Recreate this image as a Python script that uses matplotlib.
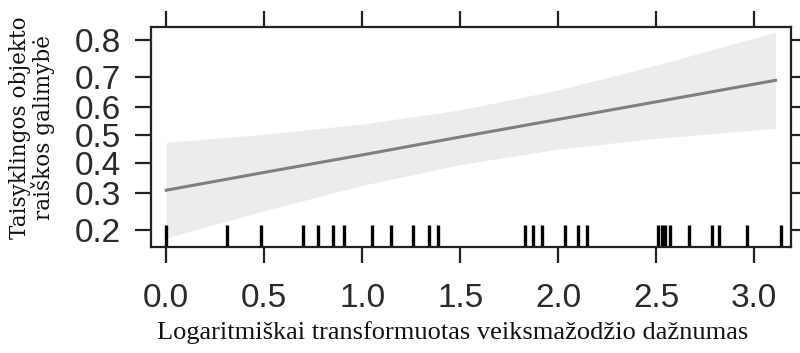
import matplotlib
matplotlib.use("Agg")
import matplotlib.pyplot as plt

# observed values (log-transformed verb frequency) - rug marks
rug_x = [0.0, 0.31, 0.485, 0.70, 0.777, 0.85, 0.905, 1.05, 1.146, 1.257,
         1.343, 1.386, 1.832, 1.874, 1.917, 2.036, 2.10, 2.146, 2.51, 2.53,
         2.545, 2.571, 2.668, 2.787, 2.823, 2.963, 3.136]

# effect curve and confidence band (probabilities)
grid_x = [0.0, 0.5, 1.0, 1.5, 2.0, 2.5, 3.11]
fit_p = [0.309, 0.367, 0.428, 0.493, 0.557, 0.619, 0.690]
lower_p = [0.182, 0.249, 0.324, 0.394, 0.449, 0.488, 0.525]
upper_p = [0.474, 0.503, 0.540, 0.591, 0.659, 0.735, 0.818]

yticks = [0.2, 0.3, 0.4, 0.5, 0.6, 0.7, 0.8]
xticks = [0.0, 0.5, 1.0, 1.5, 2.0, 2.5, 3.0]

fig = plt.figure(figsize=(8, 3.53), dpi=100)
ax = fig.add_axes([0.189, 0.300, 0.800, 0.6235])

ax.set_yscale("logit")
ax.fill_between(grid_x, lower_p, upper_p, color="#ececec", lw=0)
ax.plot(grid_x, fit_p, color="#7f7f7f", lw=2.2)

# rug along the bottom
for xv in rug_x:
    ax.plot([xv, xv], [0.163, 0.211], color="black", lw=2.4, solid_capstyle="butt")

ax.set_xlim(-0.077, 3.19)
ax.set_ylim(0.163, 0.829)

ax.set_yticks(yticks)
ax.set_yticklabels([f"{v:.1f}" for v in yticks])
ax.yaxis.set_minor_locator(matplotlib.ticker.NullLocator())
ax.set_xticks(xticks)
ax.set_xticklabels([f"{v:.1f}" for v in xticks])

ax.tick_params(axis="both", direction="out", length=11.5, width=1.6, color="#222222",
               labelsize=24, labelcolor="#2a2a2a", pad=10,
               top=True, right=True, labeltop=False, labelright=False)
ax.tick_params(axis="x", pad=14)
ax.tick_params(axis="both", labelfontfamily="Liberation Sans")
for s in ax.spines.values():
    s.set_linewidth(1.6)
    s.set_color("#222222")

fig.text(453 / 800, 1 - 333 / 353, "Logaritmiškai transformuotas veiksmažodžio dažnumas",
         ha="center", va="center", fontsize=19, family="Liberation Serif", color="#111111")
fig.text(32 / 800, 1 - 128 / 353, "Taisyklingos objekto\nraiškos galimybė",
         ha="center", va="center", rotation=90, fontsize=15.5, family="DejaVu Serif",
         color="#111111", linespacing=0.95)

fig.savefig("out.png", dpi=100)
